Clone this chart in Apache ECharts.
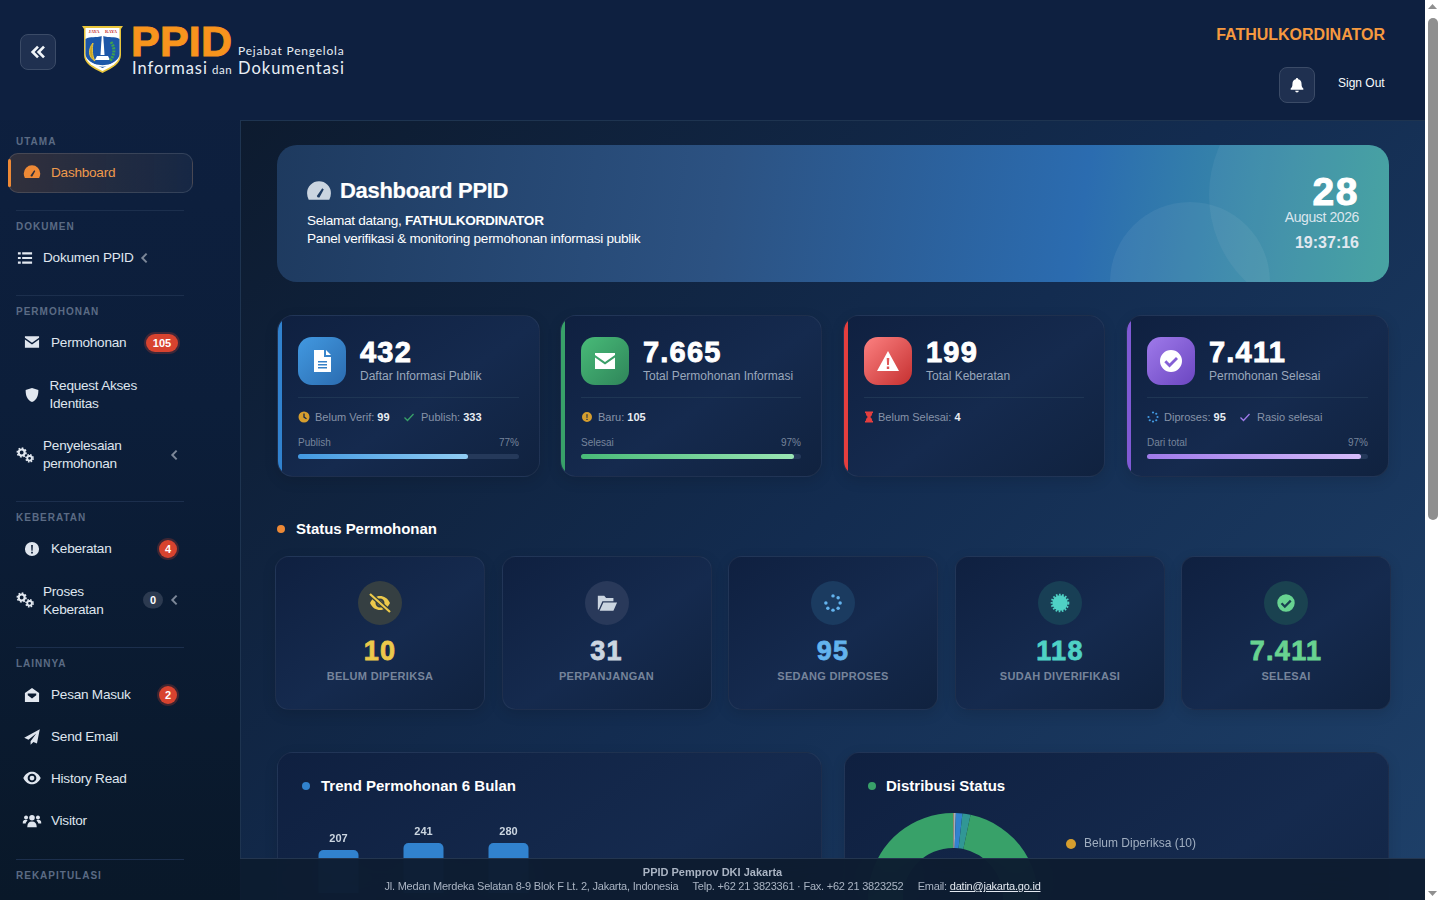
<!DOCTYPE html>
<html lang="id">
<head>
<meta charset="utf-8">
<title>Dashboard PPID</title>
<script src="https://cdn.jsdelivr.net/npm/echarts@6/dist/echarts.min.js"></script>
<style>
html, body { margin: 0; height: 100%; overflow: hidden; background: #0e2040; font-family: "Liberation Sans", Arial, sans-serif; color: #fff; }
#root { position: absolute; left: 0; top: 0; width: 1440px; height: 900px; overflow: hidden; }
.abs { position: absolute; box-sizing: border-box; }
.t { position: absolute; white-space: nowrap; transform: translateY(-50%); }
.ic { position: absolute; transform: translate(-50%, -50%); display: block; }
.card { position: absolute; box-sizing: border-box; border: 1px solid rgba(255,255,255,.06); background: linear-gradient(145deg, #0f2040 0%, #152a4e 55%, #10223f 100%); overflow: hidden; box-shadow: 0 4px 14px rgba(0,0,0,.12); }
.sec { font-size: 10px; font-weight: 700; letter-spacing: 1px; color: #5b6b84; }
.nav { font-size: 13.6px; color: #dfe5ee; line-height: 18px; letter-spacing: -.25px; }
.badge { position: absolute; transform: translateY(-50%); height: 18px; line-height: 18px; border-radius: 9px; text-align: center; font-size: 11px; font-weight: 700; color: #fff; background: #d8432f; box-shadow: 0 0 0 2px rgba(216,67,47,.25); }
</style>
</head>
<body>
<div id="root"></div>
<script>
const trendMonths = ['Mar', 'Apr', 'Mei', 'Jun', 'Jul', 'Agu']
const trendValues = [207, 241, 280, null, null, null]
const statusNames = ['Belum Diperiksa', 'Perpanjangan', 'Sedang Diproses', 'Sudah Diverifikasi', 'Selesai']
const statusValues = [10, 31, 95, 118, 7411]
const statusColors = ['#d69e2e', '#a0aec0', '#3182ce', '#319795', '#38a169']
const statusLabels = ['BELUM DIPERIKSA', 'PERPANJANGAN', 'SEDANG DIPROSES', 'SUDAH DIVERIFIKASI', 'SELESAI']
const statusTexts = ['10', '31', '95', '118', '7.411']

const ICONS = {
  gauge: '<path fill-rule="evenodd" d="M12 3a11 11 0 0 0-11 11c0 2 .5 4 1.5 6h19c1-2 1.5-4 1.5-6A11 11 0 0 0 12 3zM10 16.5l5-7 1.4 1-4 7.5a2 2 0 0 1-2.400-1.500z"/>',
  list: '<path d="M2 4h4v3H2zM8 4h14v3H8zM2 10.500h4v3H2zM8 10.500h14v3H8zM2 17h4v3H2zM8 17h14v3H8z"/>',
  mail: '<path d="M2 4h20v2l-10 7L2 6zM2 8.500l10 7 10-7V20H2z"/>',
  mailopen: '<path fill-rule="evenodd" d="M12 2l10 7v13H2V9zM6 10v2.500l6 4.500 6-4.500V10z"/>',
  shield: '<path d="M12 2l9 3c0 8-2 14-9 17C5 19 3 13 3 5z"/>',
  cogs: '<circle cx="8" cy="9" r="3.600" fill="none" stroke="currentColor" stroke-width="2.600"/><circle cx="8" cy="9" r="5.200" fill="none" stroke="currentColor" stroke-width="2" stroke-dasharray="2 2"/><circle cx="17.500" cy="16" r="2.800" fill="none" stroke="currentColor" stroke-width="2.200"/><circle cx="17.500" cy="16" r="4.300" fill="none" stroke="currentColor" stroke-width="1.800" stroke-dasharray="1.800 1.600"/>',
  excl: '<path fill-rule="evenodd" d="M12 2a10 10 0 1 0 0 20 10 10 0 0 0 0-20zM10.800 6.500h2.400l-.4 8h-1.600zM10.800 15.800h2.400v2.400h-2.400z"/>',
  plane: '<path d="M23 1L1 13l6 3 11-9-8 11v5l4-4 5 2z"/>',
  eye: '<path fill-rule="evenodd" d="M1 12C4 6 8 4 12 4s8 2 11 8c-3 6-7 8-11 8S4 18 1 12zM12 6.500a5.500 5.500 0 1 0 0 11 5.500 5.500 0 0 0 0-11z"/><circle cx="12" cy="12" r="3"/>',
  users: '<circle cx="12" cy="8" r="3.500"/><circle cx="4.500" cy="7.500" r="2.500"/><circle cx="19.500" cy="7.500" r="2.500"/><path d="M6 20c0-5 2-7.500 6-7.500s6 2.500 6 7.500zM0 15c0-3 1.500-4.500 4-4.500 1 0 1.800.2 2.400.8C5 12.500 4.500 13.500 4 15zM24 15c0-3-1.500-4.500-4-4.500-1 0-1.800.2-2.400.8 1.400 1.200 1.900 2.200 2.400 3.700z"/>',
  bell: '<path d="M12 1.500a1.800 1.800 0 0 1 1.800 1.900c3.200.8 5 3.300 5 6.600 0 4.500 1.200 5.800 2.700 7.300V19h-19v-1.700C4 15.800 5.200 14.500 5.200 10c0-3.300 1.800-5.800 5-6.600A1.800 1.800 0 0 1 12 1.500zM9.300 20.500h5.400a2.700 2.700 0 0 1-5.400 0z"/>',
  left: '<path d="M15 4l-8 8 8 8" fill="none" stroke="currentColor" stroke-width="3.600"/>',
  dleft: '<path d="M12 4l-8 8 8 8M21 4l-8 8 8 8" fill="none" stroke="currentColor" stroke-width="4"/>',
  clock: '<path fill-rule="evenodd" d="M12 1a11 11 0 1 0 0 22 11 11 0 0 0 0-22zM10.700 5h2.600v6.500l4.400 3-1.400 2.100-5.600-3.800z"/>',
  check: '<path d="M3 13l6 6L21 6" fill="none" stroke="currentColor" stroke-width="2.600"/>',
  hourglass: '<path d="M4 1h16v3h-1.500c0 4-2 6.500-4 8 2 1.500 4 4 4 8H20v3H4v-3h1.500c0-4 2-6.500 4-8-2-1.500-4-4-4-8H4z"/>',
  spinner: '<circle cx="12" cy="3" r="2.200"/><circle cx="18.500" cy="5.500" r="2.200"/><circle cx="21" cy="12" r="2.200"/><circle cx="18.500" cy="18.500" r="2.200"/><circle cx="12" cy="21" r="2.200"/><circle cx="5.500" cy="18.500" r="2.200"/><circle cx="3" cy="12" r="2.200"/>',
  file: '<path fill-rule="evenodd" d="M4 1h10v7h7v15H4zM16 1l5 5h-5zM8 12v1.500h9V12zM8 15v1.500h9V15zM8 18v1.500h9V18z"/>',
  warn: '<path fill-rule="evenodd" d="M12 2l11 20H1zM10.700 9l.4 7h1.800l.4-7zM10.800 17.500v2.400h2.400v-2.400z"/>',
  eyeslash: '<path fill-rule="evenodd" d="M2 12c2.500-5 6-7 10-7s7.500 2 10 7c-2.500 5-6 7-10 7s-7.500-2-10-7zM12 7.500a4.500 4.500 0 1 0 0 9 4.500 4.500 0 0 0 0-9z"/><circle cx="12" cy="12" r="2.500"/><path d="M2 3l20 18" stroke="#35403f" stroke-width="4.500"/><path d="M2 3l20 18" stroke="currentColor" stroke-width="2.200"/>',
  folder: '<path d="M2 4h7l2 2.500h8V10H7l-4 9H2zM8 11.500h15l-4 9H4z"/>',
  cert: '<circle cx="12" cy="12" r="9.200"/><circle cx="12" cy="12" r="10" fill="none" stroke="currentColor" stroke-width="2.400" stroke-dasharray="2 1.800"/>',
  badgecheck: '<path fill-rule="evenodd" d="M12 1a11 11 0 1 0 0 22 11 11 0 0 0 0-22zM17 8l2 2-8.500 8.500-5.200-5.200 2-2 3.200 3.200z"/>'
}

function ic(name, x, y, size, color) {
  return `<svg class="ic" style="left:${x}px;top:${y}px;color:${color}" width="${size}" height="${size}" viewBox="0 0 24 24" fill="currentColor">${ICONS[name]}</svg>`
}
function t(x, y, text, css, cls) {
  return `<div class="t ${cls || ''}" style="left:${x}px;top:${y}px;${css || ''}">${text}</div>`
}
function tr(right, y, text, css) {
  return `<div class="t" style="right:${1440 - right}px;top:${y}px;${css || ''}">${text}</div>`
}
function box(x, y, w, h, css, cls) {
  return `<div class="${cls || 'abs'}" style="left:${x}px;top:${y}px;width:${w}px;height:${h}px;${css || ''}"></div>`
}

// sidebar
function sidebar() {
  let h = box(0, 0, 240, 900, 'background:linear-gradient(180deg,#0e2040 0%,#0c1e3a 45%,#091829 100%);z-index:0')
  const secs = [['UTAMA', 140.5], ['DOKUMEN', 225.5], ['PERMOHONAN', 310.5], ['KEBERATAN', 516.5], ['LAINNYA', 662.5], ['REKAPITULASI', 874.5]]
  secs.forEach(s => { h += t(16, s[1], s[0], '', 'sec') })
  ;[210, 295, 501, 647, 859].forEach(y => { h += box(16, y, 168, 1, 'background:#1c2f4d') })

  h += box(8, 153, 185, 40, 'border-radius:10px;background:linear-gradient(90deg,rgba(237,137,54,.16),rgba(255,255,255,.04));border:1px solid rgba(255,255,255,.12)')
  h += box(8, 159, 3, 28, 'background:#ed8936;border-radius:2px')
  h += ic('gauge', 32, 172, 18, '#ed8936')
  h += t(51, 172, 'Dashboard', 'font-size:13.6px;color:#ef9a4c;letter-spacing:-.25px')

  h += ic('list', 24.5, 258, 17, '#e2e8f0') + t(43, 257.5, 'Dokumen PPID', '', 'nav') + ic('left', 145, 258, 13, '#7c8798')
  h += ic('mail', 32, 342, 17, '#dfe5ee') + t(51, 342.5, 'Permohonan', '', 'nav')
  h += `<div class="badge" style="left:146px;top:343px;width:32px">105</div>`
  h += ic('shield', 31.5, 395, 17, '#e2e8f0') + t(49.5, 394.5, 'Request Akses<br>Identitas', '', 'nav')
  h += ic('cogs', 25, 455, 20, '#e2e8f0') + t(43, 454.5, 'Penyelesaian<br>permohonan', '', 'nav') + ic('left', 175, 455, 13, '#7c8798')
  h += ic('excl', 32, 549, 17, '#dfe5ee') + t(51, 548.5, 'Keberatan', '', 'nav')
  h += `<div class="badge" style="left:159px;top:549px;width:18px">4</div>`
  h += ic('cogs', 25, 600, 20, '#e2e8f0') + t(43, 600.5, 'Proses<br>Keberatan', '', 'nav')
  h += `<div class="badge" style="left:143px;top:600px;width:20px;height:17px;line-height:17px;background:#2c3a50;box-shadow:none">0</div>` + ic('left', 175, 600, 13, '#7c8798')
  h += ic('mailopen', 32, 695, 17, '#e2e8f0') + t(51, 694.5, 'Pesan Masuk', '', 'nav')
  h += `<div class="badge" style="left:159px;top:695px;width:18px">2</div>`
  h += ic('plane', 32, 737, 17, '#dfe5ee') + t(51, 736.5, 'Send Email', '', 'nav')
  h += ic('eye', 32, 778, 19, '#dfe5ee') + t(51, 778.5, 'History Read', '', 'nav')
  h += ic('users', 32, 821, 19, '#dfe5ee') + t(51, 820.5, 'Visitor', '', 'nav')
  return `<div class="abs" style="left:0;top:0;width:240px;height:900px;z-index:3">${h}</div>`
}

// header with logo, user and bell
function header() {
  let h = box(0, 0, 1425, 120, 'background:#0e2040')
  h += box(20, 34, 36, 36, 'border-radius:8px;background:#1f3050;border:1px solid #3b4b67')
  h += ic('dleft', 38, 52, 16, '#f1f5f9')
  h += `<svg class="abs" style="left:82px;top:25px" width="41" height="49" viewBox="0 0 41 49">
    <path d="M0 1h41l-2 3v26c0 8-8 13-18.500 18C10 43 2 38 2 30V4z" fill="#e8c53a"/>
    <path d="M3.500 3h34v27c0 7-7 11-17 16-10-5-17-9-17-16z" fill="#fff"/>
    <path d="M3.500 14c5-3 10-1 17-3 7 2 12 0 17 3v15c0 6-7 9-17 14-10-5-17-8-17-14z" fill="#1c57a8"/>
    <text x="12" y="7.500" font-size="4.500" font-family="Liberation Serif" font-weight="700" fill="#c53030" text-anchor="middle">JAYA</text>
    <text x="29" y="7.500" font-size="4.500" font-family="Liberation Serif" font-weight="700" fill="#c53030" text-anchor="middle">RAYA</text>
    <path d="M19.800 10h1.400l1.300 20h-4z" fill="#fff"/><path d="M15 31h11l2 4H13z" fill="#fff"/>
    <path d="M11 18c-5 6-5 14 2 18-3-5-3-12-2-18z" fill="#c9a227" stroke="#e8c53a"/>
    <path d="M29 17c4 6 4 12-1 19" fill="none" stroke="#3fa34d" stroke-width="3" stroke-dasharray="2 1"/>
    <path d="M9 39c6 2.500 17 2.500 23 0" stroke="#fff" stroke-width="1.500" fill="none"/>
  </svg>`
  h += t(131, 41, 'PPID', 'font-size:43px;line-height:30px;font-weight:700;color:#f7941d;-webkit-text-stroke:1px #f7941d;letter-spacing:.2px')
  const logoFont = 'font-family:Lato,sans-serif;color:#e8eef5;'
  h += t(238, 50, 'Pejabat Pengelola', logoFont + 'font-size:12px;letter-spacing:.8px')
  h += t(132, 68, 'Informasi', logoFont + 'font-size:16.5px;letter-spacing:.95px')
  h += t(212, 69, 'dan', logoFont + 'font-size:11.5px;letter-spacing:.5px')
  h += t(238, 68, 'Dokumentasi', logoFont + 'font-size:16.5px;letter-spacing:1px')
  h += tr(1400, 34.5, 'FATHULKORDINATOR', 'font-size:16px;font-weight:700;color:#f6993f')
  h += box(1279, 67, 36, 36, 'border-radius:8px;background:#1f3050;border:1px solid #3b4b67')
  h += ic('bell', 1297, 85, 16, '#fff')
  h += t(1338, 83, 'Sign Out', 'font-size:12px;color:#f7fafc')
  return `<div class="abs" style="left:0;top:0;width:1425px;height:120px;z-index:3">${h}</div>`
}

function hero() {
  let h = `<div class="abs" style="left:277px;top:145px;width:1112px;height:137px;border-radius:20px;overflow:hidden;background:linear-gradient(98deg,#1e3a5f 0%,#2c5282 40%,#2b6cb0 72%,#3a8ea6 90%,#3f9f9e 100%)">
    ${box(932, -70, 240, 240, 'border-radius:50%;background:rgba(255,255,255,.05)')}
    ${box(833, 57, 160, 160, 'border-radius:50%;background:rgba(255,255,255,.06)')}
  </div>`
  h += ic('gauge', 319, 191, 26, '#cbd5e0')
  h += t(340, 191, 'Dashboard PPID', 'font-size:22px;font-weight:700;letter-spacing:-.3px;-webkit-text-stroke:.2px #fff')
  h += t(307, 220, 'Selamat datang, <b>FATHULKORDINATOR</b>', 'font-size:13.6px;letter-spacing:-.3px')
  h += t(307, 238, 'Panel verifikasi &amp; monitoring permohonan informasi publik', 'font-size:13.6px;letter-spacing:-.29px')
  h += tr(1359, 192, '28', 'font-size:39px;line-height:28px;font-weight:700;-webkit-text-stroke:1px #fff;letter-spacing:1.5px')
  h += tr(1359, 217, 'August 2026', 'font-size:14px;line-height:16px;color:#dbe6ee;letter-spacing:-.4px')
  h += tr(1359, 242.5, '19:37:16', 'font-size:16px;font-weight:700;color:#e2e8f0')
  return h
}

function statCard(x, w, color, grad, iconName, value, label, metas, bar) {
  let h = `<div class="card" style="left:${x}px;top:315px;width:${w}px;height:162px;border-radius:16px">${box(-1, -1, 5, 164, 'background:' + color)}</div>`
  h += box(x + 21, 337, 48, 48, `border-radius:14px;background:linear-gradient(135deg,${grad[0]},${grad[1]})`)
  h += ic(iconName, x + 45, 361, 24, '#fff')
  h += t(x + 83, 352, value, 'font-size:29px;font-weight:700;-webkit-text-stroke:.9px #fff;letter-spacing:1.2px')
  h += t(x + 83, 375.5, label, 'font-size:12px;color:#9aa7bb')
  h += box(x + 21, 397, w - 42, 1, 'background:#1f3654')
  metas.forEach(m => {
    h += ic(m[0], x + m[1], 417, 12, m[2])
    h += t(x + m[3], 417, m[4], 'font-size:11px;color:#8793a8')
  })
  if (bar) {
    h += t(x + 21, 442, bar.label, 'font-size:10px;color:#76849b')
    h += `<div class="t" style="right:${1440 - (x + w - 21)}px;top:442px;font-size:10px;color:#76849b">${bar.pct}%</div>`
    h += box(x + 21, 454, w - 42, 5, 'border-radius:3px;background:#25395a')
    h += box(x + 21, 454, (w - 42) * bar.pct / 100, 5, `border-radius:3px;background:linear-gradient(90deg,${bar.c[0]},${bar.c[1]})`)
  }
  return h
}
const b = s => `<b style="color:#e8edf3">${s}</b>`

function statCards() {
  return statCard(277, 263, '#3182ce', ['#4299e1', '#2b6cb0'], 'file', '432', 'Daftar Informasi Publik',
      [['clock', 27, '#d69e2e', 38, 'Belum Verif: ' + b(99)], ['check', 132, '#38a169', 144, 'Publish: ' + b(333)]],
      { label: 'Publish', pct: 77, c: ['#4299e1', '#90cdf4'] }) +
    statCard(560, 262, '#38a169', ['#48bb78', '#2f855a'], 'mail', '7.665', 'Total Permohonan Informasi',
      [['excl', 27, '#d69e2e', 38, 'Baru: ' + b(105)]],
      { label: 'Selesai', pct: 97, c: ['#48bb78', '#9ae6b4'] }) +
    statCard(843, 262, '#e53e3e', ['#fc8181', '#c53030'], 'warn', '199', 'Total Keberatan',
      [['hourglass', 26, '#e53e3e', 35, 'Belum Selesai: ' + b(4)]], null) +
    statCard(1126, 263, '#805ad5', ['#9f7aea', '#6b46c1'], 'badgecheck', '7.411', 'Permohonan Selesai',
      [['spinner', 27, '#4299e1', 38, 'Diproses: ' + b(95)], ['check', 119, '#9f7aea', 131, 'Rasio selesai']],
      { label: 'Dari total', pct: 97, c: ['#9f7aea', '#d6bcfa'] })
}

function miniCards() {
  const xs = [275, 501.5, 728, 955, 1181]
  const cols = ['#ecc94b', '#cbd5e0', '#63b3ed', '#4fd1c5', '#68d391']
  const circ = ['#353f42', '#29395a', '#1b3b60', '#183f55', '#1a4250']
  const icons = ['eyeslash', 'folder', 'spinner', 'cert', 'badgecheck']
  const sizes = [24, 22, 19, 20, 19]
  let h = ''
  xs.forEach((x, i) => {
    const cx = x + 105
    h += `<div class="card" style="left:${x}px;top:556px;width:210px;height:154px;border-radius:14px"></div>`
    h += box(cx - 22, 581, 44, 44, `border-radius:50%;background:${circ[i]}`)
    h += ic(icons[i], cx, 603, sizes[i], cols[i])
    h += `<div class="t" style="left:${x}px;width:210px;text-align:center;top:651px;font-size:27px;font-weight:700;letter-spacing:1.3px;color:${cols[i]};-webkit-text-stroke:.8px ${cols[i]}">${statusTexts[i]}</div>`
    h += `<div class="t" style="left:${x}px;width:210px;text-align:center;top:676px;font-size:11px;font-weight:700;letter-spacing:.3px;color:#76849b">${statusLabels[i]}</div>`
  })
  return h
}

function scrollbar() {
  return box(1425, 0, 15, 900, 'background:#fff;z-index:4') +
    box(1428, 18, 10, 502, 'background:#8f8f8f;border-radius:5px;z-index:5') +
    `<svg class="abs" style="left:1425px;top:0;z-index:5" width="15" height="900"><path d="M7.500 4l4.500 5H3z" fill="#8f8f8f"/><path d="M7.500 896l4.500-5H3z" fill="#8f8f8f"/></svg>`
}

function footer() {
  return `<div class="abs" style="left:0;top:858px;width:1425px;height:42px;z-index:2;background:rgba(13,27,47,.95);backdrop-filter:blur(30px);border-top:1px solid #24364f;font-size:11px;color:#aab4c3;text-align:center">
    <div style="margin-top:6px;line-height:14px;font-weight:700">PPID Pemprov DKI Jakarta</div>
    <div style="line-height:14px;letter-spacing:-.22px">Jl. Medan Merdeka Selatan 8-9 Blok F Lt. 2, Jakarta, Indonesia &nbsp;&nbsp;&nbsp;&nbsp;Telp. +62 21 3823361 · Fax. +62 21 3823252 &nbsp;&nbsp;&nbsp;&nbsp;Email: <u style="color:#e2e8f0">datin@jakarta.go.id</u></div>
  </div>`
}

document.getElementById('root').innerHTML =
  box(240, 120, 1185, 780, 'background:linear-gradient(135deg,#0d1b2f 0%,#132c50 50%,#1e4069 100%);border-top:1px solid #1e3450;border-left:1px solid #1e3450') +
  hero() + statCards() +
  box(277, 525, 8, 8, 'border-radius:50%;background:#ed8936') +
  t(296, 528, 'Status Permohonan', 'font-size:15px;font-weight:700;letter-spacing:-.05px') +
  miniCards() +
  `<div class="card" style="left:277px;top:752px;width:545px;height:300px;border-radius:16px"></div>` +
  box(302, 782, 8, 8, 'border-radius:50%;background:#3182ce') +
  t(321, 785, 'Trend Permohonan 6 Bulan', 'font-size:15px;font-weight:700') +
  `<div class="card" style="left:844px;top:752px;width:545px;height:300px;border-radius:16px"></div>` +
  box(868, 782, 8, 8, 'border-radius:50%;background:#38a169') +
  t(886, 785, 'Distribusi Status', 'font-size:15px;font-weight:700') +
  `<div id="trendChart" class="abs" style="left:277px;top:800px;width:545px;height:110px"></div>` +
  `<div id="statusChart" class="abs" style="left:844px;top:800px;width:545px;height:420px"></div>` +
  footer() + sidebar() + header() + scrollbar()

const trendChart = echarts.init(document.getElementById('trendChart'))
trendChart.setOption({
  animation: false,
  grid: { left: 19, width: 510, top: 43, height: 50 },
  xAxis: { type: 'category', data: trendMonths, axisLine: { show: false }, axisTick: { show: false }, axisLabel: { show: false } },
  yAxis: { type: 'value', min: 0, max: 241, show: false },
  series: [{
    type: 'bar',
    data: trendValues,
    barWidth: 40,
    itemStyle: { color: '#3182ce', borderRadius: [5, 5, 0, 0] },
    label: { show: true, position: 'top', distance: 6, fontSize: 11, fontWeight: 'bold', color: '#cbd5e0', fontFamily: 'Liberation Sans' }
  }]
})

const statusChart = echarts.init(document.getElementById('statusChart'))
statusChart.setOption({
  animation: false,
  color: statusColors,
  legend: {
    orient: 'vertical',
    left: 217,
    top: 33,
    icon: 'circle',
    itemWidth: 10,
    itemHeight: 10,
    itemGap: 50,
    formatter: name => name + ' (' + statusValues[statusNames.indexOf(name)] + ')',
    textStyle: { color: '#a0aec0', fontSize: 12, fontFamily: 'Liberation Sans', padding: [0, 0, 0, 3] }
  },
  series: [{
    type: 'pie',
    center: [109, 98],
    radius: [50, 85],
    startAngle: 90,
    label: { show: false },
    labelLine: { show: false },
    data: statusNames.map((n, i) => ({ name: n, value: statusValues[i] }))
  }]
})
</script>
</body>
</html>
